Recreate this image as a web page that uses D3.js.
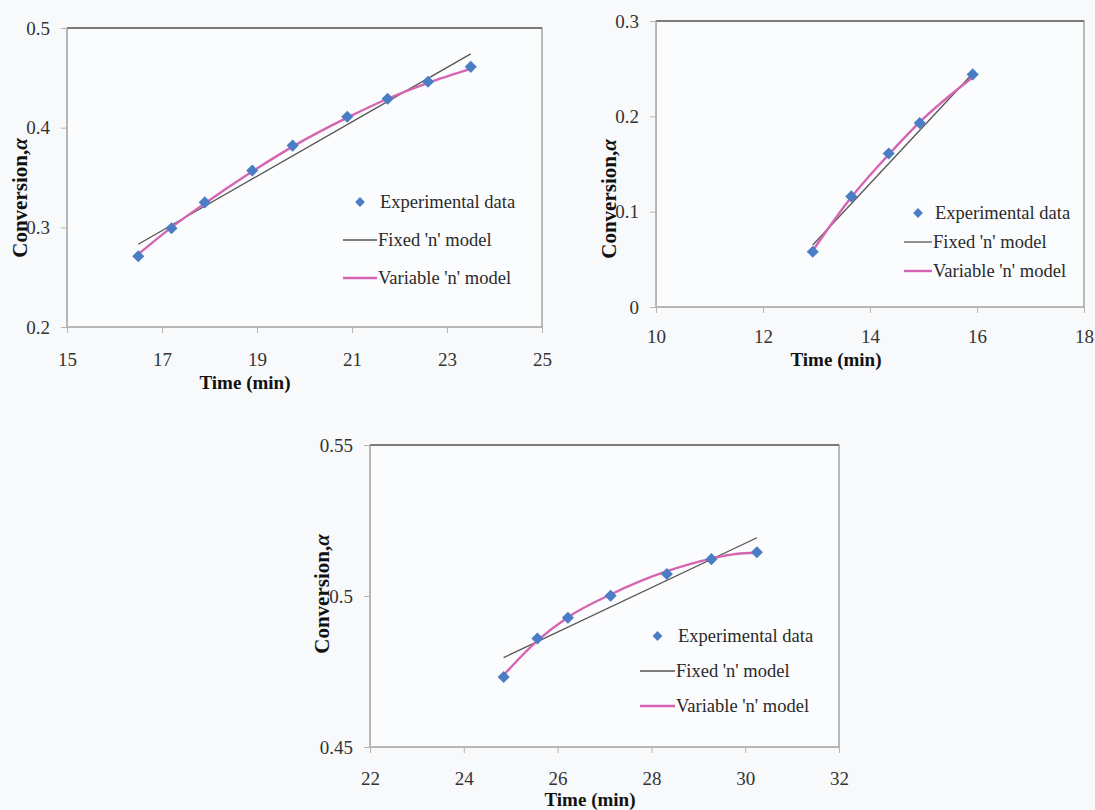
<!DOCTYPE html>
<html>
<head>
<meta charset="utf-8">
<script src="https://cdn.jsdelivr.net/npm/d3@7"></script>
<style>
  html, body { margin: 0; padding: 0; background: #f8f9fb; }
  svg { display: block; }
  .tick text { font-family: "Liberation Serif", "Times New Roman", serif; font-size: 19px; fill: #333; }
  .legend text { font-family: "Liberation Serif", "Times New Roman", serif; font-size: 18.5px; fill: #2a2a2a; }
  .title { font-family: "Liberation Serif", "Times New Roman", serif; font-weight: bold; fill: #111; }
</style>
</head>
<body>
<svg id="chart" width="1095" height="810"></svg>
<script>
// ---- data ----
// panel 1 (top left)
const T1 = [16.5, 17.2, 17.9, 18.9, 19.75, 20.9, 21.75, 22.6, 23.5];
const A1 = [0.271, 0.299, 0.325, 0.357, 0.382, 0.411, 0.429, 0.446, 0.461];
const FIX1_T = [16.5, 23.5];
const FIX1_A = [0.283, 0.474];
const VAR1_T = [16.5, 17.2, 17.9, 18.9, 19.75, 20.9, 21.75, 22.6, 23.5];
const VAR1_A = [0.273, 0.300, 0.324, 0.356, 0.381, 0.410, 0.429, 0.445, 0.459];
const X1_TICKS = [15, 17, 19, 21, 23, 25];
const Y1_TICKS = [0.2, 0.3, 0.4, 0.5];

// panel 2 (top right)
const T2 = [12.93, 13.65, 14.35, 14.93, 15.92];
const A2 = [0.058, 0.116, 0.161, 0.193, 0.244];
const FIX2_T = [12.93, 15.92];
const FIX2_A = [0.065, 0.245];
const VAR2_T = [12.93, 13.65, 14.35, 14.93, 15.92];
const VAR2_A = [0.059, 0.115, 0.160, 0.194, 0.241];
const X2_TICKS = [10, 12, 14, 16, 18];
const Y2_TICKS = [0, 0.1, 0.2, 0.3];

// panel 3 (bottom)
const T3 = [24.85, 25.57, 26.22, 27.13, 28.33, 29.28, 30.25];
const A3 = [0.4732, 0.4859, 0.4928, 0.5001, 0.5073, 0.5122, 0.5145];
const FIX3_T = [24.85, 30.25];
const FIX3_A = [0.4796, 0.5193];
const VAR3_T = [24.85, 25.57, 26.22, 27.13, 28.33, 29.28, 29.8, 30.25];
const VAR3_A = [0.4738, 0.4852, 0.4930, 0.5005, 0.5082, 0.5124, 0.5139, 0.5143];
const X3_TICKS = [22, 24, 26, 28, 30, 32];
const Y3_TICKS = [0.45, 0.5, 0.55];

const LEGEND_LABELS = ["Experimental data", "Fixed 'n' model", "Variable 'n' model"];

const BLUE = '#4a7dc4', PINK = '#d565b3', GREY = '#555';

// Excel style diamond (square turned 45 degrees)
const diamond = {
  draw(ctx, size) {
    const r = Math.sqrt(size) * 0.63;
    ctx.moveTo(0, -r); ctx.lineTo(r, 0); ctx.lineTo(0, r); ctx.lineTo(-r, 0); ctx.closePath();
  }
};

const svg = d3.select('#chart');

function zip(xs, ys) { return xs.map((x, i) => ({ x, y: ys[i] })); }

function drawPanel(p) {
  const x = d3.scaleLinear().domain(d3.extent(p.xTicks)).range([p.left, p.right]);
  const y = d3.scaleLinear().domain(d3.extent(p.yTicks)).range([p.bottom, p.top]);
  const g = svg.append('g');

  // plot area frame
  g.append('rect')
    .attr('x', p.left).attr('y', p.top)
    .attr('width', p.right - p.left).attr('height', p.bottom - p.top)
    .attr('fill', '#fbfcfe').attr('stroke', '#8e8e8e').attr('stroke-width', 1.2);
  g.append('line')
    .attr('x1', p.left).attr('x2', p.right).attr('y1', p.top).attr('y2', p.top)
    .attr('stroke', '#7a7a7a').attr('stroke-width', 2);

  const xAxis = g.append('g').attr('transform', `translate(0,${p.bottom})`)
    .call(d3.axisBottom(x).tickValues(p.xTicks).tickFormat(String).tickSize(6).tickSizeOuter(0).tickPadding(p.xPad));
  const yAxis = g.append('g').attr('transform', `translate(${p.left},0)`)
    .call(d3.axisLeft(y).tickValues(p.yTicks).tickFormat(String).tickSize(6).tickSizeOuter(0).tickPadding(11));
  [xAxis, yAxis].forEach(a => {
    a.select('.domain').attr('stroke', '#bdb2b2');
    a.selectAll('.tick line').attr('stroke', '#bdb2b2');
    a.attr('font-family', null).attr('font-size', null);
  });

  // fixed 'n' model (straight line)
  g.append('path').datum(zip(p.fixT, p.fixA))
    .attr('fill', 'none').attr('stroke', GREY).attr('stroke-width', 1.3)
    .attr('d', d3.line().x(d => x(d.x)).y(d => y(d.y)));

  // variable 'n' model
  g.append('path').datum(zip(p.varT, p.varA))
    .attr('fill', 'none').attr('stroke', PINK).attr('stroke-width', 2.4)
    .attr('d', d3.line().curve(d3.curveMonotoneX).x(d => x(d.x)).y(d => y(d.y)));

  // experimental points
  g.selectAll('path.pt').data(zip(p.t, p.a)).join('path')
    .attr('class', 'pt')
    .attr('transform', d => `translate(${x(d.x)},${y(d.y)})`)
    .attr('fill', BLUE)
    .attr('d', d3.symbol().type(diamond).size(92));

  // legend
  const lg = g.append('g').attr('class', 'legend');
  const lx = p.legend.x, ly = p.legend.y, gap = p.legend.gap, lw = p.legend.w;
  lg.append('path').attr('transform', `translate(${lx + lw / 2},${ly})`)
    .attr('fill', BLUE).attr('d', d3.symbol().type(diamond).size(60));
  lg.append('line').attr('x1', lx).attr('x2', lx + lw).attr('y1', ly + gap).attr('y2', ly + gap)
    .attr('stroke', GREY).attr('stroke-width', 1.3);
  lg.append('line').attr('x1', lx).attr('x2', lx + lw).attr('y1', ly + 2 * gap).attr('y2', ly + 2 * gap)
    .attr('stroke', PINK).attr('stroke-width', 2.4);
  LEGEND_LABELS.forEach((t, i) => {
    lg.append('text').attr('x', lx + lw + 1 + (i === 0 ? 2 : 0)).attr('y', ly + i * gap)
      .attr('dy', '0.33em').text(t);
  });

  // axis titles
  const yt = g.append('text').attr('class', 'title').attr('font-size', 21)
    .attr('text-anchor', 'middle')
    .attr('transform', `translate(${p.yTitle[0]},${p.yTitle[1]}) rotate(-90)`)
    .attr('dy', '0.35em');
  yt.append('tspan').text('Conversion,');
  yt.append('tspan').attr('font-style', 'italic').text('α');
  g.append('text').attr('class', 'title').attr('font-size', 19)
    .attr('text-anchor', 'middle')
    .attr('x', p.xTitle[0]).attr('y', p.xTitle[1])
    .text('Time (min)');
}

drawPanel({
  left: 67, right: 542, top: 28, bottom: 327, xPad: 20,
  xTicks: X1_TICKS, yTicks: Y1_TICKS,
  t: T1, a: A1, fixT: FIX1_T, fixA: FIX1_A, varT: VAR1_T, varA: VAR1_A,
  legend: { x: 343, y: 202, gap: 38, w: 34 },
  yTitle: [20, 198], xTitle: [245, 389]
});

drawPanel({
  left: 656, right: 1084, top: 21, bottom: 307, xPad: 17,
  xTicks: X2_TICKS, yTicks: Y2_TICKS,
  t: T2, a: A2, fixT: FIX2_T, fixA: FIX2_A, varT: VAR2_T, varA: VAR2_A,
  legend: { x: 904, y: 213, gap: 29, w: 28 },
  yTitle: [609, 199], xTitle: [836, 366]
});

drawPanel({
  left: 370, right: 839, top: 445, bottom: 747, xPad: 19,
  xTicks: X3_TICKS, yTicks: Y3_TICKS,
  t: T3, a: A3, fixT: FIX3_T, fixA: FIX3_A, varT: VAR3_T, varA: VAR3_A,
  legend: { x: 640, y: 636, gap: 35, w: 35 },
  yTitle: [322, 594], xTitle: [590, 806]
});
</script>
</body>
</html>
